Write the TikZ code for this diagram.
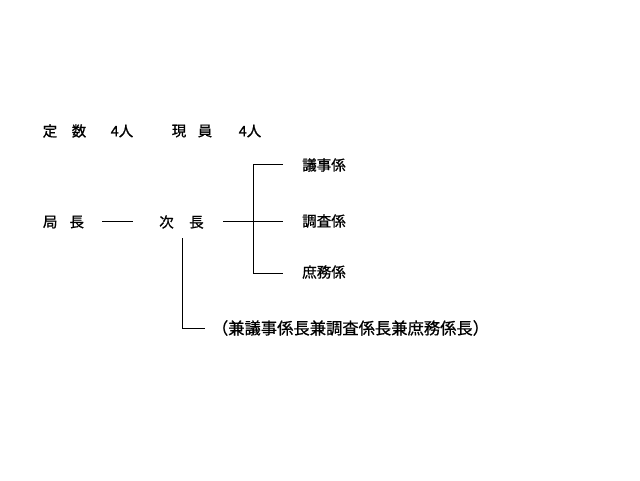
\documentclass[tikz,border=0pt]{standalone}
\usepackage{fontspec}
\setmainfont{Noto Sans CJK JP}[FakeBold=0.9]
\begin{document}
\begin{tikzpicture}[x=1pt,y=-1pt,
  lbl/.style={inner sep=0pt,font=\fontsize{14.5}{16}\selectfont},
  note/.style={inner sep=0pt,font=\fontsize{16.3}{18}\selectfont},
  conn/.style={line width=0.8pt,black}]
\useasboundingbox (0,0) rectangle (640,480);
% header
\node[lbl] (teisu) at (64.5,131) {定\hspace{14.5pt}数};
\node[lbl] (teisun) at (122,131) {4人};
\node[lbl] (genin) at (192,131) {現\hspace{11.5pt}員};
\node[lbl] (geninn) at (250,131) {4人};
% chart
\node[lbl] (kyoku) at (63.5,222) {局\hspace{12pt}長};
\node[lbl] (jicho) at (181.5,222) {次\hspace{15.5pt}長};
\node[lbl] (giji) at (324,165) {議事係};
\node[lbl] (chosa) at (324,221) {調査係};
\node[lbl] (shomu) at (324,272) {庶務係};
\node[note] (ken) at (350.5,328) {（兼議事係長兼調査係長兼庶務係長）};
% connector points
\coordinate (k1) at (102,221);
\coordinate (k2) at (133,221);
\coordinate (j1) at (223,221);
\coordinate (b) at (253,221);
\coordinate (bt) at (253,164);
\coordinate (bb) at (253,273);
\coordinate (g1) at (283,164);
\coordinate (c1) at (283,221);
\coordinate (s1) at (283,273);
\coordinate (d1) at (182,238);
\coordinate (d2) at (182,328);
\coordinate (d3) at (205,328);
\draw[conn] (k1) -- (k2);
\draw[conn] (j1) -- (c1);
\draw[conn] (g1) -- (bt) -- (bb) -- (s1);
\draw[conn] (d1) -- (d2) -- (d3);
\end{tikzpicture}
\end{document}
